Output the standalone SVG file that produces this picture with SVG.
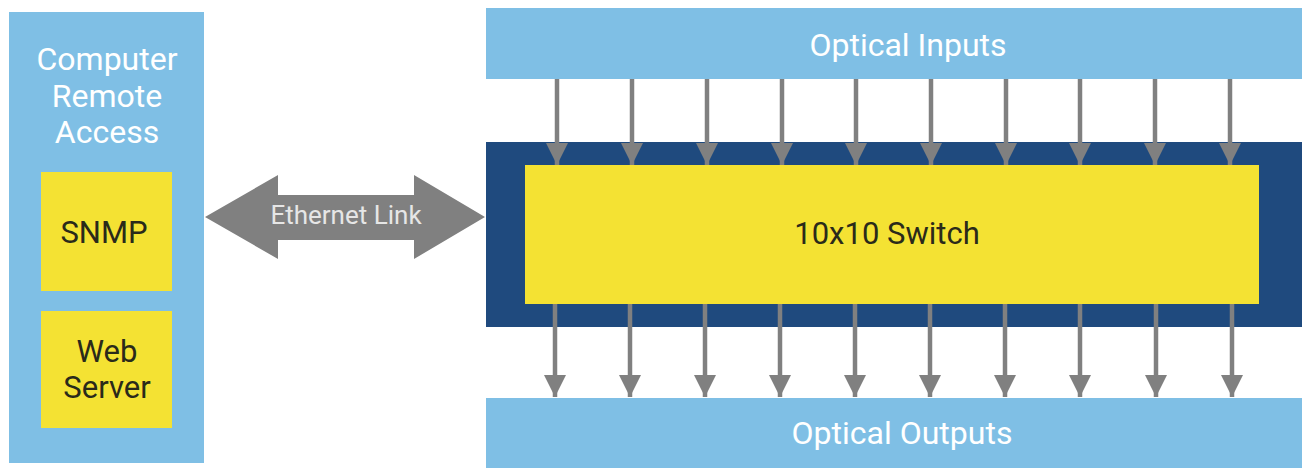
<svg xmlns="http://www.w3.org/2000/svg" width="1310" height="476" viewBox="0 0 1310 476">
<defs>
<style>
.lb{fill:#7fbfe5}
.nv{fill:#1f4a7e}
.yl{fill:#f4e233}
.ar{fill:#808080}
.ln{stroke:#808080;stroke-width:4.5}
text{font-family:Roboto,"Liberation Sans",sans-serif;text-anchor:middle}
.wt{fill:#ffffff;font-size:32px}
.dk{fill:#2a2a1a;font-size:31px}
</style>
<marker id="ah" markerUnits="userSpaceOnUse" markerWidth="24" markerHeight="22" refX="22" refY="11" orient="auto">
<path d="M0,0 L22,11 L0,22 Z" fill="#808080"/>
</marker>
</defs>
<rect width="1310" height="476" fill="#ffffff"/>
<g id="remote">
<rect class="lb" x="9" y="12" width="195" height="451"/>
<text class="wt" x="107" y="70">Computer</text>
<text class="wt" x="107" y="107">Remote</text>
<text class="wt" x="107" y="143">Access</text>
</g>
<g id="snmp">
<rect class="yl" x="41" y="172" width="131" height="119"/>
<text class="dk" x="104" y="243">SNMP</text>
</g>
<g id="webserver">
<rect class="yl" x="41" y="311" width="131" height="117"/>
<text class="dk" x="107" y="362">Web</text>
<text class="dk" x="107" y="398">Server</text>
</g>
<g id="inputs">
<rect class="lb" x="486" y="8" width="816" height="71"/>
<text class="wt" x="908" y="56">Optical Inputs</text>
</g>
<g id="switch">
<rect class="nv" x="486" y="142" width="816" height="185"/>
<rect class="yl" x="525" y="165" width="734" height="139"/>
<text class="dk" x="887" y="244">10x10 Switch</text>
</g>
<g id="outputs">
<rect class="lb" x="486" y="398" width="816" height="70"/>
<text class="wt" x="902" y="444">Optical Outputs</text>
</g>
<g id="connectors">
<g id="ethernet">
<path class="ar" d="M205,217 L278,175 L278,195 L414,195 L414,175 L485,217 L414,259 L414,240 L278,240 L278,259 Z"/>
<text x="346" y="224" style="fill:#e6e6e6;font-size:26px">Ethernet Link</text>
</g>
<g id="in-arrows" class="ln" marker-end="url(#ah)">
<line x1="557" y1="79" x2="557" y2="165"/>
<line x1="632" y1="79" x2="632" y2="165"/>
<line x1="707" y1="79" x2="707" y2="165"/>
<line x1="782" y1="79" x2="782" y2="165"/>
<line x1="856" y1="79" x2="856" y2="165"/>
<line x1="931" y1="79" x2="931" y2="165"/>
<line x1="1006" y1="79" x2="1006" y2="165"/>
<line x1="1080" y1="79" x2="1080" y2="165"/>
<line x1="1155" y1="79" x2="1155" y2="165"/>
<line x1="1230" y1="79" x2="1230" y2="165"/>
</g>
<g id="out-arrows" class="ln" marker-end="url(#ah)">
<line x1="555" y1="304" x2="555" y2="397"/>
<line x1="630" y1="304" x2="630" y2="397"/>
<line x1="705" y1="304" x2="705" y2="397"/>
<line x1="780" y1="304" x2="780" y2="397"/>
<line x1="855" y1="304" x2="855" y2="397"/>
<line x1="930" y1="304" x2="930" y2="397"/>
<line x1="1005" y1="304" x2="1005" y2="397"/>
<line x1="1080" y1="304" x2="1080" y2="397"/>
<line x1="1156" y1="304" x2="1156" y2="397"/>
<line x1="1232" y1="304" x2="1232" y2="397"/>
</g>
</g>
</svg>
